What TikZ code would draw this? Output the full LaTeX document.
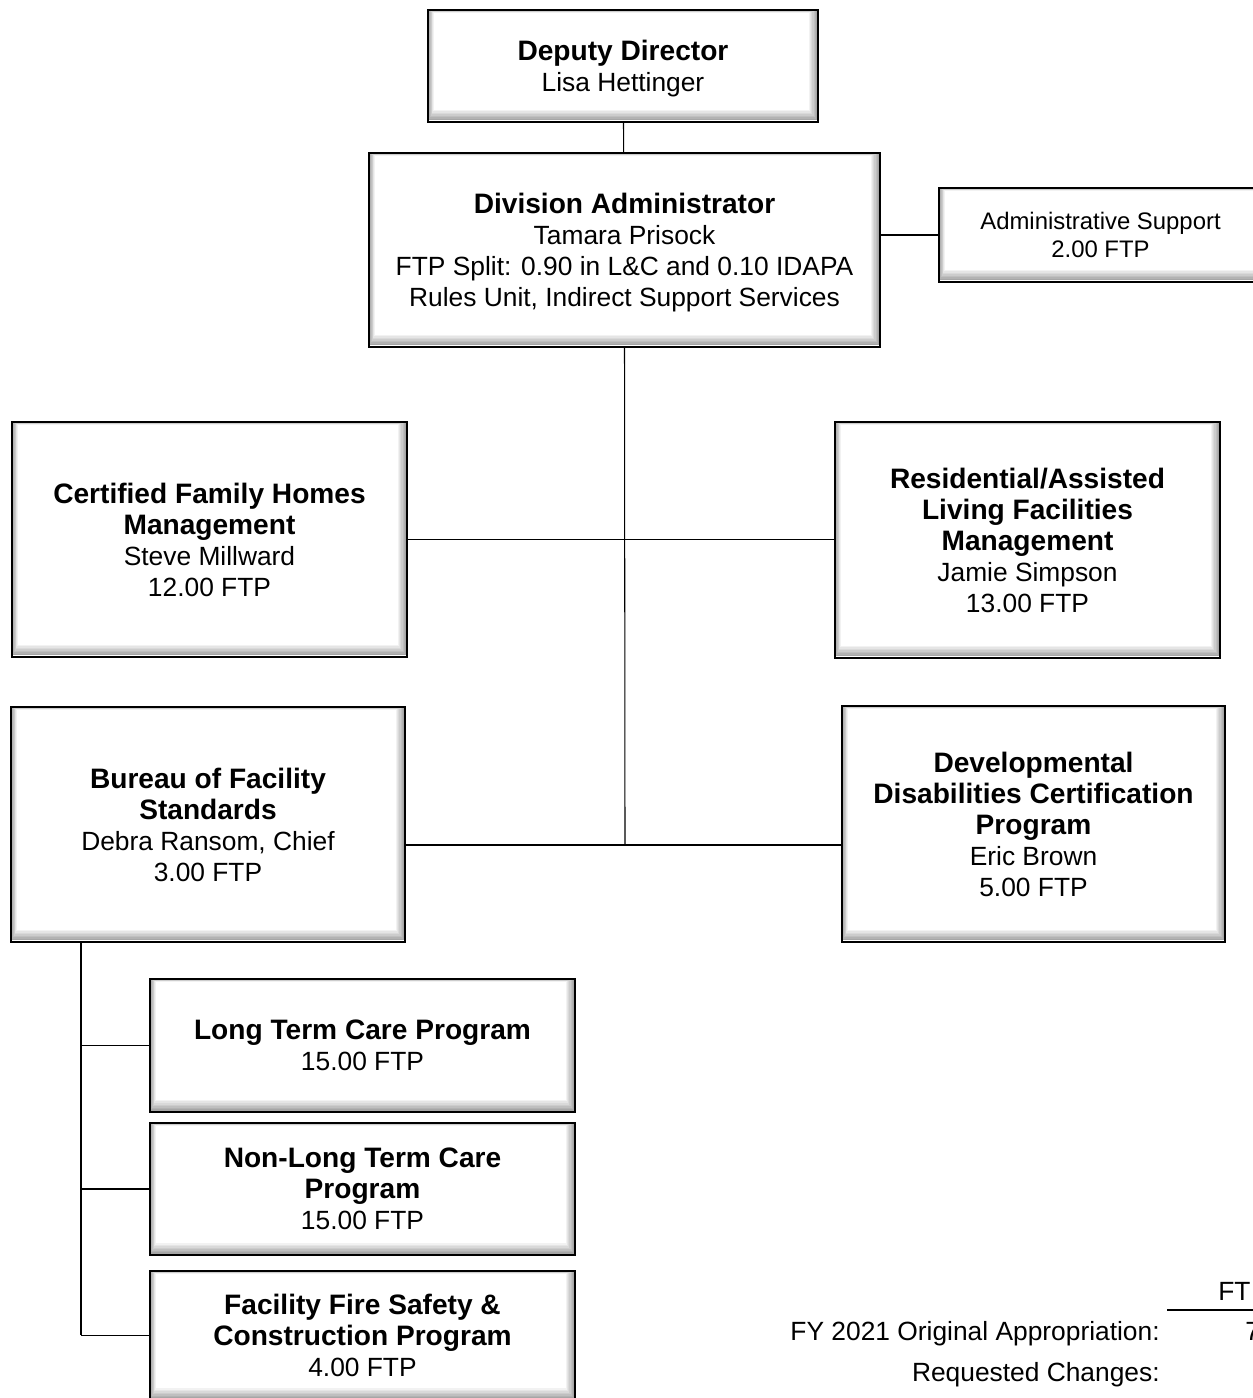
\documentclass[tikz,border=0pt]{standalone}
\usepackage{fontspec}
\setmainfont{Liberation Sans}
\newcommand{\ttl}[1]{{\fontsize{16}{18}\selectfont\bfseries #1}}
\tikzset{
  orgbox/.style={draw=black, line width=1.3pt, fill=white, align=center, inner sep=0pt,
    font=\fontsize{15}{17.6}\selectfont, text depth=0pt,
    path picture={
      \foreach \k in {1,...,8}{
        \pgfmathtruncatemacro{\c}{80-10*\k}
        \fill[gray!\c] ([shift={(0.7*\k,0.35*\k)}]path picture bounding box.north west)
          rectangle ([shift={(-1.1*\k,-1.5*\k)}]path picture bounding box.south east);
      }
    }},
  link/.style={line width=0.6pt},
  sumtext/.style={font=\fontsize{15}{17.6}\selectfont, inner sep=0pt},
}
\begin{document}
\begin{tikzpicture}[x=0.02cm, y=-0.02cm]
\useasboundingbox (0,0) rectangle (1252,1398);
% Top of the chart
\node[orgbox, minimum width=7.8cm, minimum height=2.24cm] (dep) at (623,66)
  {\ttl{Deputy Director}\\Lisa Hettinger};
\node[orgbox, minimum width=10.22cm, minimum height=3.88cm] (div) at (624.5,250)
  {\ttl{Division Administrator}\\Tamara Prisock\\FTP Split: 0.90 in L\&C and 0.10 IDAPA\\Rules Unit, Indirect Support Services};
\node[orgbox, minimum width=6.46cm, minimum height=1.88cm,
  font=\fontsize{13.6}{16}\selectfont] (adm) at (1100.5,235)
  {Administrative Support\\2.00 FTP};
% Middle rows
\node[orgbox, minimum width=7.9cm, minimum height=4.7cm] (cfh) at (209.5,539.5)
  {\ttl{Certified Family Homes}\\\ttl{Management}\\Steve Millward\\12.00 FTP};
\node[orgbox, minimum width=7.7cm, minimum height=4.72cm] (ral) at (1027.5,540)
  {\ttl{Residential/Assisted}\\\ttl{Living Facilities}\\\ttl{Management}\\Jamie Simpson\\13.00 FTP};
\node[orgbox, minimum width=7.88cm, minimum height=4.7cm] (bfs) at (208,824.5)
  {\ttl{Bureau of Facility}\\\ttl{Standards}\\Debra Ransom, Chief\\3.00 FTP};
\node[orgbox, minimum width=7.66cm, minimum height=4.72cm] (ddc) at (1033.5,824)
  {\ttl{Developmental}\\\ttl{Disabilities Certification}\\\ttl{Program}\\Eric Brown\\5.00 FTP};
% Programs under the bureau
\node[orgbox, minimum width=8.5cm, minimum height=2.66cm] (ltc) at (362.5,1045.5)
  {\ttl{Long Term Care Program}\\15.00 FTP};
\node[orgbox, minimum width=8.5cm, minimum height=2.64cm] (nltc) at (362.5,1189)
  {\ttl{Non-Long Term Care}\\\ttl{Program}\\15.00 FTP};
\node[orgbox, minimum width=8.5cm, minimum height=2.58cm] (ffs) at (362.5,1335.5)
  {\ttl{Facility Fire Safety \&}\\\ttl{Construction Program}\\4.00 FTP};
% Connectors
\coordinate (sp) at (625,845);
\coordinate (tr) at (81,1335);
\draw[link] (dep) -- (div);
\draw[link] (adm.west) -- (adm.west -| div.east);
\draw[link] (div.south) -- (sp);
\draw[link] (cfh.east) -- (cfh.east -| ral.west);
\draw[link] (bfs.east |- sp) -- (ddc.west |- sp);
\draw[link] (tr |- bfs.south) -- (tr);
\foreach \n in {ltc,nltc,ffs}
  \draw[link] (\n.west) -- (\n.west -| tr);
% FTP summary (cut at the page edge)
\node[sumtext, anchor=base east] (orig) at (1160,1340) {FY 2021 Original Appropriation:};
\node[sumtext, anchor=base east] (req) at (1160,1381) {Requested Changes:};
\node[sumtext, anchor=base west] (fth) at (1218,1300) {FT};
\node[sumtext, anchor=base west] (ov) at (1245,1340) {7};
\draw[line width=1.2pt] (1167,1310) -- (1262,1310);
\end{tikzpicture}
\end{document}
